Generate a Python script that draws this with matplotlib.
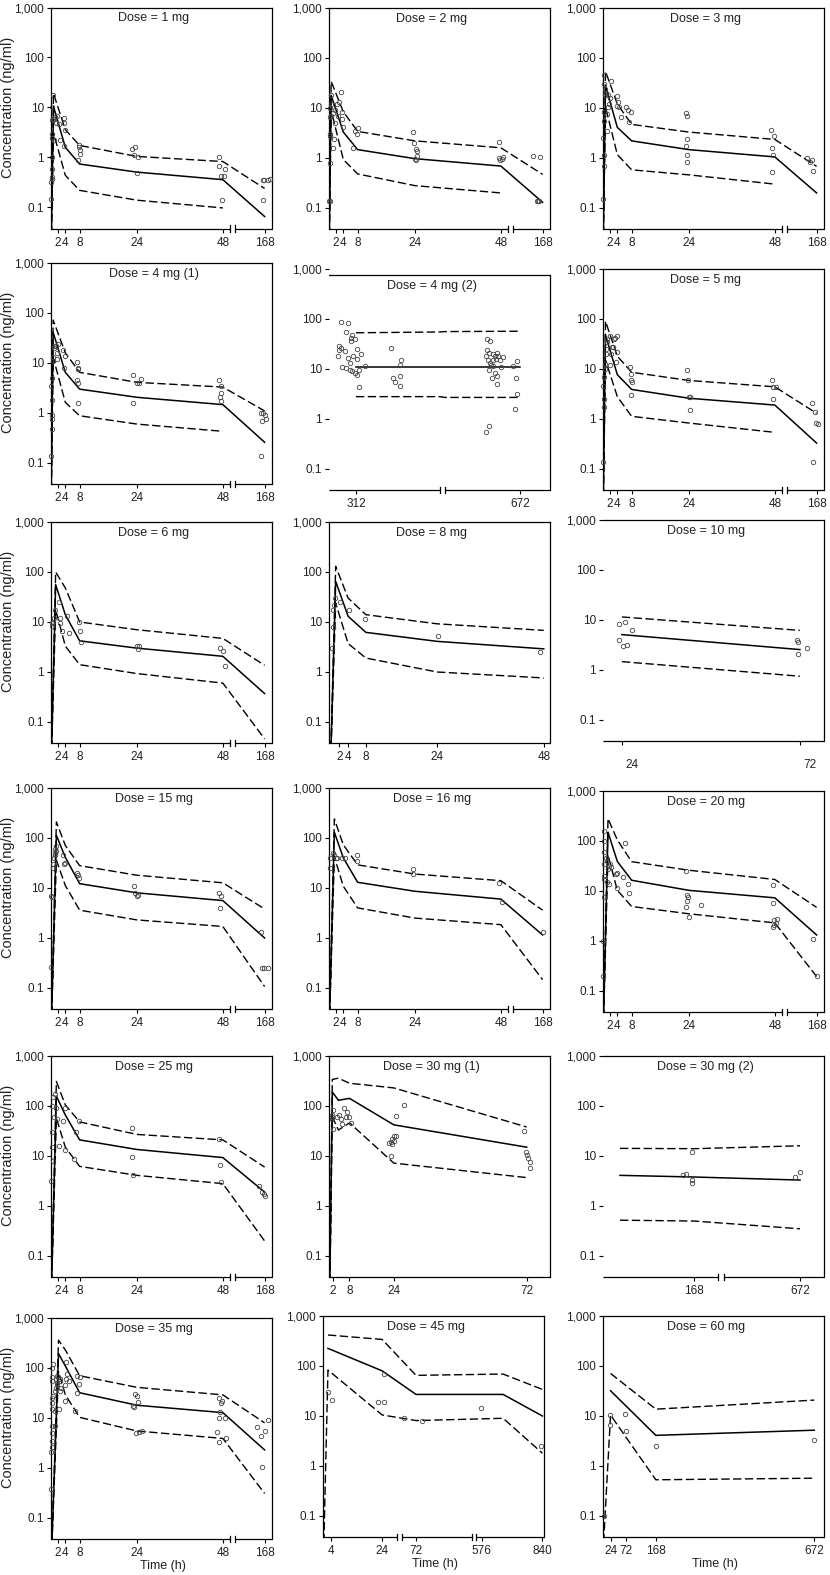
import numpy as np
import matplotlib
matplotlib.use("Agg")
import matplotlib.pyplot as plt
from matplotlib.ticker import FixedLocator, FixedFormatter, NullFormatter, NullLocator

nan = np.nan
plt.rcParams['font.family'] = ['Liberation Sans', 'DejaVu Sans']

# ---------------- data (time in h, concentration in ng/ml) ----------------
# 1 mg
d1_lt = [0, 0.7, 4, 8, 24, 48, 168]
d1_med = [0.01, 10.5, 1.6, 0.74, 0.51, 0.36, 0.066]
d1_hi = [0.01, 19, 3.6, 1.74, 1.05, 0.83, 0.24]
d1_lo = [0.01, 3.1, 0.44, 0.22, 0.14, 0.098, nan]
d1_ot = [0.1, 0.1, 0.15, 0.2, 0.3, 0.2, 0.3, 0.4, 0.3, 0.5, 0.4, 0.6, 0.7, 0.8,
         1.2, 1.5, 2.2, 2.5, 1.8, 3.5, 3.6, 3.5, 4, 7.7, 7.9, 8, 8.1, 7.6,
         22.6, 23.5, 23.2, 24.2, 23.9, 46.8, 47, 47.4, 48.3, 48.5, 47.7,
         167, 167.5, 167, 170, 171]
d1_oc = [0.15, 0.33, 0.38, 0.4, 0.6, 1.0, 2.5, 3.0, 5.5, 6.0, 10, 18, 6, 2.2,
         6.5, 5, 4.6, 2.2, 6.8, 6.2, 5, 1.7, 3.5, 1.8, 1.6, 1.4, 1.2, 0.9,
         1.5, 1.65, 1.1, 1.0, 0.5, 1.0, 0.68, 0.42, 0.42, 0.6, 0.14,
         0.35, 0.35, 0.14, 0.35, 0.37]

# 2 mg
d2_lt = [0, 0.6, 4, 8, 24, 48, 168]
d2_med = [0.01, 18, 3.3, 1.47, 0.97, 0.69, 0.13]
d2_hi = [0.01, 34, 8.4, 3.4, 2.2, 1.6, 0.47]
d2_lo = [0.01, 9, 0.93, 0.48, 0.28, 0.2, nan]
d2_ot = [0.1, 0.3, 0.2, 0.3, 0.4, 0.3, 0.5, 0.4, 0.5, 0.6,
         1.0, 1.4, 1.8, 1.2, 1.6, 2.2, 2.5, 2.8, 3.3, 3.5, 3.7, 3.8,
         6.8, 7.4, 7.8, 8.0, 23.5, 23.7, 24.3, 24.6, 24.5, 24.0, 24.2,
         47.4, 47.5, 47.7, 48.2, 48.6, 162.4, 166.7, 164.7, 165.5, 166]
d2_oc = [0.14, 0.14, 0.8, 2.8, 3, 6.5, 7, 10, 12, 18,
         1.6, 2.4, 5, 8, 9, 12, 7, 13, 21, 8.5, 6, 4.2,
         1.6, 3.5, 3, 3.9, 3.3, 2, 1.5, 1.35, 1.1, 0.95, 0.9,
         2.1, 1.0, 0.9, 0.95, 1.05, 1.1, 1.05, 0.14, 0.14, 0.14]

# 3 mg
d3_lt = [0, 0.7, 4, 8, 24, 48, 168]
d3_med = [0.01, 28, 4.1, 2.2, 1.47, 1.05, 0.2]
d3_hi = [0.01, 54, 12, 4.7, 3.3, 2.35, 0.68]
d3_lo = [0.01, 10.5, 1.17, 0.58, 0.46, 0.3, nan]
d3_ot = [0.1, 0.2, 0.3, 0.1, 0.2, 0.4, 0.5, 0.6, 0.4, 0.3, 0.8,
         1.0, 1.2, 1.5, 1.8, 2.0, 2.2, 1.3, 4.0, 4.2, 4.5, 5.0, 3.8,
         6.5, 7.0, 7.8, 7.2, 23.3, 23.5, 23.6, 23.3, 23.6, 23.4,
         47.0, 47.7, 47.2, 47.6, 47.2, 162.2, 164, 165, 166]
d3_oc = [0.15, 0.7, 1.15, 2.5, 5.5, 8.5, 18, 24, 30, 45, 20,
         3.4, 7.5, 10.5, 12, 16, 35, 18, 17, 13, 10.5, 6.5, 11,
         10.5, 9, 8.4, 5.2, 8, 7, 2.4, 1.7, 1.15, 0.84,
         3.7, 2.8, 1.6, 1.15, 0.53, 1.0, 0.85, 0.9, 0.55]

# 4 mg (1)
d4a_lt = [0, 0.6, 4, 8, 24, 48, 168]
d4a_med = [0.01, 41, 6.5, 3.0, 2.06, 1.47, 0.26]
d4a_hi = [0.01, 72, 16, 6.5, 4.1, 3.3, 1.1]
d4a_lo = [0.01, 13, 1.63, 0.88, 0.6, 0.43, nan]
d4a_ot = [0.1, 0.3, 0.2, 0.4, 0.2, 0.1, 0.3, 0.5, 0.6, 0.8, 0.7,
          1.5, 2.0, 1.8, 1.6, 3.3, 3.8, 3.5,
          7.3, 7.5, 7.6, 7.4, 7.6, 7.5, 22.8, 22.8, 24, 24.5, 25,
          47, 47.6, 47.4, 47.2, 47.5, 165.9, 167, 168, 166.5, 169, 166]
d4a_oc = [0.14, 0.48, 0.75, 0.9, 1.8, 3.5, 5, 11, 13, 20, 22,
          22, 24, 16, 12, 18, 14, 7.8,
          10.5, 8, 7.5, 4.6, 4, 1.6, 5.7, 1.55, 4, 3.9, 4.7,
          4.6, 3.5, 2.5, 2.1, 1.7, 1.0, 1.0, 0.9, 0.7, 0.75, 0.14]

# 4 mg (2)
d4b_lt = [312, 340, 650, 672]
d4b_med = [11, 11, 11, 11]
d4b_hi = [53, 55, 56, 57]
d4b_lo = [2.8, 2.8, 2.7, 2.7]
d4b_ot = [307.1, 309.3, 308.8, 310.8, 310.5, 310.2, 311.6, 306.5, 307.1, 306.3,
          308.2, 306.0, 309.3, 311.0, 309.9, 312.4, 313.8, 312.4, 307.4, 308.8,
          309.9, 310.8, 311.6, 312.4, 313.0, 313.0, 314.9, 323.8, 324.4, 324.9,
          326.6, 326.8, 327.1, 326.8,
          662.3, 663.3, 662.3, 662.9, 662.1, 662.6, 663.1, 663.9, 664.6, 665.1,
          665.5, 666.0, 664.1, 662.9, 664.6, 665.1, 663.6, 665.3, 662.1, 662.9,
          669.9, 670.9, 670.7, 670.4, 671.1, 664, 665, 663.5, 666.5, 667]
d4b_oc = [89, 85, 54, 48, 42, 37, 40, 29, 26, 24,
          22.5, 18, 16.5, 18, 13, 25, 20, 16, 11, 10.5,
          9.7, 9, 8.3, 7.7, 9.7, 4.4, 11.6, 26, 6.6, 5.5,
          4.5, 7.1, 15, 12.3,
          40, 37, 23.6, 21, 18, 15, 13, 15, 18, 21,
          18, 15, 11.3, 9.7, 8.3, 7.3, 6.6, 4.9, 0.54, 0.74,
          11.7, 14.3, 6.6, 1.6, 3.1, 20, 16, 12, 11, 17]

# 5 mg
d5_lt = [0, 0.7, 4, 8, 24, 48, 168]
d5_med = [0.01, 48, 7.7, 3.9, 2.6, 1.9, 0.33]
d5_hi = [0.01, 90, 18, 8.6, 5.9, 4.4, 1.3]
d5_lo = [0.01, 15, 2.8, 1.13, 0.83, 0.54, nan]
d5_ot = [0.1, 0.2, 0.3, 0.1, 0.4, 0.5, 0.6, 0.8, 0.9, 1.0, 1.1,
         2.0, 2.2, 2.5, 1.9, 3.0, 3.3, 2.8, 3.5, 3.8, 4.0,
         7.6, 7.8, 7.7, 8.0, 7.9, 23.6, 23.8, 24.0, 24.4, 24.2,
         47.2, 47.6, 48.2, 47.4, 165.5, 167, 167.5, 168.6, 166]
d5_oc = [0.14, 1.7, 2.5, 4.5, 7, 10, 12.5, 20, 25, 35, 40,
         45, 20, 27, 12, 40, 42, 28, 14, 22, 45,
         11, 8, 6, 5.5, 3, 9.5, 6, 2.7, 2.7, 1.5,
         6, 4.3, 4.3, 2.5, 2.1, 1.4, 0.83, 0.8, 0.14]

# 6 mg
d6_lt = [0, 1.3, 4, 8, 24, 48, 168]
d6_med = [0.01, 56, 14, 4.2, 3.0, 2.06, 0.37]
d6_hi = [0.01, 100, 48, 10, 7, 4.7, 1.36]
d6_lo = [0.01, 17.6, 3.3, 1.4, 0.93, 0.6, 0.046]
d6_ot = [0.3, 0.5, 0.8, 1.0, 0.2, 2.2, 2.4, 2.6, 3.0, 4.5, 5.0,
         7.9, 8.0, 8.4, 23.9, 24.2, 24.5, 47.3, 48, 48.5]
d6_oc = [9.5, 10, 12, 17, 8.5, 25, 12, 9.5, 6.5, 13, 6.1,
         10, 6.5, 3.9, 3.3, 2.9, 3.3, 3.0, 2.6, 1.3]

# 8 mg
d8_lt = [0, 1.2, 4, 8, 24, 48]
d8_med = [0.01, 65, 13, 6.2, 4.1, 2.9]
d8_hi = [0.01, 130, 30, 14, 9.2, 6.8]
d8_lo = [0.01, 24, 3.7, 1.9, 1.0, 0.76]
d8_ot = [0.4, 0.5, 0.7, 0.9, 1.0, 2.1, 4.3, 7.9, 24.3, 47.2]
d8_oc = [3, 8, 17, 22, 30, 25, 17.6, 11.7, 5.2, 2.5]

# 10 mg
d10_lt = [24, 72]
d10_med = [5.1, 2.56]
d10_hi = [11.5, 6.2]
d10_lo = [1.47, 0.75]
d10_ot = [23.3, 23.3, 24.3, 24.9, 25.4, 26.6, 71.3, 71.6, 71.5, 73.9]
d10_oc = [8.5, 4, 3, 9, 3.1, 6.2, 4, 3.7, 2.1, 2.7]

# 15 mg
d15_lt = [0, 1.5, 4, 8, 24, 48, 168]
d15_med = [0.01, 113, 41, 12.2, 8, 5.6, 1.0]
d15_hi = [0.01, 210, 71, 28, 18, 12.7, 3.8]
d15_lo = [0.01, 36, 11.2, 3.6, 2.3, 1.7, 0.107]
d15_ot = [0.1, 0.1, 0.2, 0.5, 0.6, 0.8, 1.0, 1.2, 1.4, 1.3, 1.1,
          3.3, 3.5, 4.0, 7.2, 7.5, 7.8, 23.3, 23.6, 23.9, 24.2,
          47, 47.6, 47.3, 165.9, 166.5, 167.5, 170]
d15_oc = [0.26, 7, 6.5, 25, 30, 40, 50, 60, 70, 55, 45,
          45, 30, 32, 20, 18, 16, 11, 8, 7, 7.3,
          8, 7, 4, 1.3, 0.25, 0.25, 0.25]

# 16 mg
d16_lt = [0, 1.5, 4, 8, 24, 48, 168]
d16_med = [0.01, 130, 40, 13, 8.6, 6.0, 1.15]
d16_hi = [0.01, 240, 73, 29, 19, 14, 3.6]
d16_lo = [0.01, 42, 10.8, 4, 2.5, 1.85, 0.147]
d16_ot = [0.2, 0.4, 1.2, 1.5, 2.0, 2.3, 3.7, 4.5, 7.7, 7.8, 23.5, 23.6, 47.4, 48.3, 168]
d16_oc = [25, 40, 50, 45, 40, 40, 40, 40, 45, 35, 24, 19, 12.5, 5.2, 1.3]

# 20 mg
d20_lt = [0, 1.4, 4, 8, 24, 48, 168]
d20_med = [0.01, 150, 39, 16.4, 10.3, 7.3, 1.32]
d20_hi = [0.01, 280, 105, 38.6, 26, 17, 4.7]
d20_lo = [0.01, 53, 10.3, 4.9, 3.5, 2.3, 0.195]
d20_ot = [0.1, 0.1, 0.2, 0.3, 0.2, 0.4, 0.3, 0.4, 0.2,
          0.8, 1.0, 1.2, 1.6, 1.5, 1.8, 2.0, 2.3, 3.6, 3.8, 3.9,
          5.6, 6.2, 7.0, 7.4, 23.3, 23.6, 23.8, 23.5, 23.3, 24.0, 27.4,
          47.4, 47.5, 47.8, 48.2, 47.9, 47.6, 48.6, 166, 168]
d20_oc = [0.2, 1, 7.5, 17, 20, 35, 60, 100, 160,
          45, 40, 15, 14, 28, 32, 35, 30, 22, 11.5, 23,
          19, 90, 14, 9.2, 25, 8.2, 7.5, 6.4, 4.8, 3, 5.3,
          13, 5.8, 2.6, 2.3, 2.1, 1.9, 2.7, 1.1, 0.2]

# 25 mg
d25_lt = [0, 1.5, 4, 8, 24, 48, 168]
d25_med = [0.01, 158, 66, 21, 13.5, 9.3, 1.9]
d25_hi = [0.01, 310, 105, 48, 27, 21, 6]
d25_lo = [0.01, 57, 15, 6.2, 4.1, 2.8, 0.2]
d25_ot = [0.1, 0.2, 0.3, 0.4, 0.5, 0.6, 0.7, 1.2, 1.5, 1.8, 2.2,
          3.4, 3.8, 4.0, 6.5, 7.0, 7.8, 22.7, 22.7, 22.8,
          47, 47.2, 47.4, 164.3, 166.5, 167.5, 168]
d25_oc = [3.2, 15, 30, 100, 150, 8, 60, 170, 90, 55, 16,
          50, 13, 90, 8.8, 30, 50, 37, 9.7, 4.1,
          22, 6.7, 3, 2.5, 1.9, 1.7, 1.6]

# 30 mg (1)
d30a_lt = [0.8, 1.8, 4, 8, 24, 72]
d30a_med = [0.01, 190, 130, 142, 42, 15]
d30a_hi = [0.01, 340, 360, 285, 230, 38]
d30a_lo = [0.01, 61, 33, 46, 7.2, 3.7]
d30a_ot = [1.56, 1.8, 1.8, 2.04, 2.04, 3.6, 4.2, 4.8, 5.4, 6.0, 6.6, 7.2, 7.8, 8.4,
           22.3, 22.9, 23.5, 24.1, 24.7, 23.5, 24.1, 24.7, 22.9, 27.7,
           71, 71.6, 72.2, 72.6, 73.0, 73.2]
d30a_oc = [65, 60, 55, 35, 85, 60, 65, 55, 43, 90, 60, 75, 60, 45,
           18, 19, 22, 25, 25, 17, 20, 62, 10, 105,
           32, 12, 10.5, 9, 7.5, 5.7]

# 30 mg (2)
d30b_lt = [0, 168, 672]
d30b_med = [4.1, 3.8, 3.3]
d30b_hi = [14.2, 14, 16]
d30b_lo = [0.52, 0.5, 0.35]
d30b_ot = [143.8, 149.5, 164, 164, 164, 667, 671.8]
d30b_oc = [4.1, 4.4, 3.3, 2.9, 12, 3.8, 4.7]

# 35 mg
d35_lt = [0, 2.1, 4, 8, 24, 48, 168]
d35_med = [0.01, 194, 110, 32, 18, 12.8, 2.3]
d35_hi = [0.01, 360, 230, 70, 41, 29, 8]
d35_lo = [0.01, 85, 29, 10.3, 5.5, 3.9, 0.31]
d35_ot = [0.1, 0.1, 0.2, 0.3, 0.2, 0.3, 0.4, 0.3, 0.4, 0.5, 0.3, 0.4, 0.5, 0.4,
          1.0, 1.2, 1.4, 1.6, 1.5, 1.8, 1.2, 1.6, 2.2, 2.4, 2.5, 2.8, 2.6,
          3.8, 4.0, 4.3, 4.5, 4.2, 5.0, 6.8, 7.3, 7.8, 8.0, 7.4,
          22.8, 23.3, 23.4, 24.0, 24.2, 23.8, 24.6, 25.4,
          47.0, 47.4, 47.7, 47.2, 46.9, 48.7, 46.5, 47.0, 48.8,
          163.2, 166, 166.5, 168.5, 170]
d35_oc = [0.38, 2.1, 2.6, 3.5, 5, 7, 15, 20, 25, 27, 65, 100, 120, 55,
          7, 14, 40, 45, 60, 70, 35, 50, 15, 60, 55, 40, 35,
          22, 45, 60, 75, 130, 55, 14, 32, 48, 65, 70,
          17, 16.5, 30, 27, 21, 5, 5.3, 5.4,
          25, 20, 22, 13, 10, 10, 5.2, 3.3, 4,
          6.5, 4.3, 1.05, 5.5, 9]

# 45 mg
d45_lt = [1.1, 2.7, 24, 72, 669, 840]
d45_med = [nan, 225, 80, 27, 27, 10]
d45_hi = [nan, 417, 340, 65, 69, 34]
d45_lo = [0.03, 83, 10.5, 8.1, 9, 1.8]
d45_ot = [2.7, 4.4, 22.3, 24.6, 24.6, 48.8, 84, 573, 834]
d45_oc = [30.6, 21, 19.3, 19.3, 69, 9, 8.1, 14.6, 2.5]

# 60 mg
d60_lt = [2, 24, 168, 672]
d60_med = [nan, 32, 4.1, 5.2]
d60_hi = [nan, 71, 13.7, 20.8]
d60_lo = [0.03, 10.4, 0.53, 0.57]
d60_ot = [2, 21, 21, 70, 72, 168, 672]
d60_oc = [0.1, 10.4, 6.5, 11.2, 5.0, 2.5, 3.3]

# tick values
ticks_A = [2, 4, 8, 24, 48, 168]
ticks_8 = [2, 4, 8, 24, 48]
ticks_4b = [312, 672]
ticks_10 = [24, 72]
ticks_30a = [2, 8, 24, 72]
ticks_30b = [168, 672]
ticks_45 = [4, 24, 72, 576, 840]
ticks_60 = [24, 72, 168, 672]
y_ticks = [0.1, 1, 10, 100, 1000]
y_ticklabels = ["0.1", "1", "10", "100", "1,000"]

# ---------------- broken time axes (time -> pixel units along the axis) ----------------
SCALES = {
    'A':   ([0, 50, 150, 172.5], [0, 179, 184, 221]),
    '8':   ([-0.3, 49.4], [0, 221]),
    '4b':  ([303, 340, 650, 680.6], [0, 110.7, 115.7, 221]),
    '10':  ([18.9, 78.5], [0, 221]),
    '30a': ([0.6, 80.4], [0, 221]),
    '30b': ([-38.6, 222.5, 600, 694.7], [0, 115, 121, 221]),
    '45':  ([0.75, 29.75, 44, 184, 550, 847], [0, 74, 79.3, 149.3, 153.3, 221.7]),
    '60':  ([0, 703], [0, 221]),
}
SEGMENTS = {
    'A': [(0, 50), (150, 172.5)],
    '4b': [(303, 340), (650, 680.6)],
    '30b': [(-38.6, 222.5), (600, 694.7)],
    '45': [(0.75, 29.75), (44, 184), (550, 847)],
}

panels = [
    ("Dose = 1 mg", d1_lt, d1_med, d1_lo, d1_hi, d1_ot, d1_oc, 'A', ticks_A),
    ("Dose = 2 mg", d2_lt, d2_med, d2_lo, d2_hi, d2_ot, d2_oc, 'A', ticks_A),
    ("Dose = 3 mg", d3_lt, d3_med, d3_lo, d3_hi, d3_ot, d3_oc, 'A', ticks_A),
    ("Dose = 4 mg (1)", d4a_lt, d4a_med, d4a_lo, d4a_hi, d4a_ot, d4a_oc, 'A', ticks_A),
    ("Dose = 4 mg (2)", d4b_lt, d4b_med, d4b_lo, d4b_hi, d4b_ot, d4b_oc, '4b', ticks_4b),
    ("Dose = 5 mg", d5_lt, d5_med, d5_lo, d5_hi, d5_ot, d5_oc, 'A', ticks_A),
    ("Dose = 6 mg", d6_lt, d6_med, d6_lo, d6_hi, d6_ot, d6_oc, 'A', ticks_A),
    ("Dose = 8 mg", d8_lt, d8_med, d8_lo, d8_hi, d8_ot, d8_oc, '8', ticks_8),
    ("Dose = 10 mg", d10_lt, d10_med, d10_lo, d10_hi, d10_ot, d10_oc, '10', ticks_10),
    ("Dose = 15 mg", d15_lt, d15_med, d15_lo, d15_hi, d15_ot, d15_oc, 'A', ticks_A),
    ("Dose = 16 mg", d16_lt, d16_med, d16_lo, d16_hi, d16_ot, d16_oc, 'A', ticks_A),
    ("Dose = 20 mg", d20_lt, d20_med, d20_lo, d20_hi, d20_ot, d20_oc, 'A', ticks_A),
    ("Dose = 25 mg", d25_lt, d25_med, d25_lo, d25_hi, d25_ot, d25_oc, 'A', ticks_A),
    ("Dose = 30 mg (1)", d30a_lt, d30a_med, d30a_lo, d30a_hi, d30a_ot, d30a_oc, '30a', ticks_30a),
    ("Dose = 30 mg (2)", d30b_lt, d30b_med, d30b_lo, d30b_hi, d30b_ot, d30b_oc, '30b', ticks_30b),
    ("Dose = 35 mg", d35_lt, d35_med, d35_lo, d35_hi, d35_ot, d35_oc, 'A', ticks_A),
    ("Dose = 45 mg", d45_lt, d45_med, d45_lo, d45_hi, d45_ot, d45_oc, '45', ticks_45),
    ("Dose = 60 mg", d60_lt, d60_med, d60_lo, d60_hi, d60_ot, d60_oc, '60', ticks_60),
]

# ---------------- layout (pixels) ----------------
W, H = 830, 1575
col_left = [51, 329, 603]
row_top = [[7.5, 8, 8], [263, 269, 269], [522, 522, 520],
           [788, 788, 791], [1056, 1056, 1056], [1318, 1316, 1316]]
AX_W, AX_H = 221, 221
YMIN, YMAX = 0.038, 1000
TOP_4B = 760
TXT = '#222222'

fig = plt.figure(figsize=(W / 100, H / 100), dpi=100)
fig.patch.set_facecolor('white')

no_left_spine = {'4b', '10', '30b'}

for i, (title, lt, med, lo, hi, ot, oc, sk, ticks) in enumerate(panels):
    r, c = divmod(i, 3)
    left = col_left[c]
    if sk == '45':
        left = 323
    top = row_top[r][c]
    ax = fig.add_axes([left / W, 1 - (top + AX_H) / H, AX_W / W, AX_H / H])
    T, U = SCALES[sk]
    fwd = (lambda t, T=T, U=U: np.interp(t, T, U))
    inv = (lambda u, T=T, U=U: np.interp(u, U, T))
    ax.set_xscale('function', functions=(fwd, inv))
    ax.set_yscale('log')
    ax.set_xlim(T[0], T[-1])
    ax.set_ylim(YMIN, YMAX)

    lt = np.asarray(lt, float)
    ax.plot(lt, hi, color='k', lw=1.0, ls=(0, (6, 2.5)))
    ax.plot(lt, lo, color='k', lw=1.0, ls=(0, (6, 2.5)))
    ax.plot(lt, med, color='k', lw=1.1, ls='-')
    ax.plot(ot, oc, 'o', ms=3.2, mfc='none', mec='#444444', mew=0.6,
            ls='none', clip_on=False, zorder=3)

    # y axis
    ax.yaxis.set_major_locator(FixedLocator(y_ticks))
    ax.yaxis.set_major_formatter(FixedFormatter(y_ticklabels))
    ax.yaxis.set_minor_locator(NullLocator())
    ax.tick_params(axis='y', direction='out', length=3, width=0.8, pad=2,
                   labelsize=8.5, labelcolor=TXT)

    # x axis
    ax.xaxis.set_minor_locator(NullLocator())
    ax.xaxis.set_major_locator(FixedLocator(ticks))
    if sk == '10':
        ax.xaxis.set_major_formatter(NullFormatter())
        ax.xaxis.set_minor_locator(FixedLocator([t + 2.7 for t in ticks]))
        ax.xaxis.set_minor_formatter(FixedFormatter([str(t) for t in ticks]))
        ax.tick_params(axis='x', which='minor', length=0, pad=13,
                       labelsize=8.5, labelcolor=TXT)
    else:
        ax.xaxis.set_major_formatter(FixedFormatter([str(t) for t in ticks]))
    ax.tick_params(axis='x', which='major', direction='out', length=3, width=0.8,
                   pad=3, labelsize=8.5, labelcolor=TXT)

    # frame
    for s in ax.spines.values():
        s.set_linewidth(0.9)
        s.set_color('k')
    ax.spines['bottom'].set_visible(False)
    xt = ax.get_xaxis_transform()
    segs = SEGMENTS.get(sk, [(T[0], T[-1])])
    for j, (a, b) in enumerate(segs):
        ax.plot([a, b], [0, 0], transform=xt, color='k', lw=0.9,
                clip_on=False, solid_capstyle='butt')
        if j > 0:
            ax.plot([a, a], [-0.014, 0.014], transform=xt, color='k', lw=0.9, clip_on=False)
        if j < len(segs) - 1:
            ax.plot([b, b], [-0.014, 0.014], transform=xt, color='k', lw=0.9, clip_on=False)
    if sk == '4b':
        ax.spines['top'].set_visible(False)
        ax.axhline(TOP_4B, color='k', lw=0.9)
        ax.spines['right'].set_bounds(YMIN, TOP_4B)
    if sk in no_left_spine:
        ax.spines['left'].set_visible(False)

    ty = 0.925 if sk == '4b' else 0.952
    ax.text(0.465, ty, title, transform=ax.transAxes, ha='center', va='center',
            fontsize=9, color=TXT)

    if c == 0:
        ax.set_ylabel('Concentration (ng/ml)', fontsize=10.5, color=TXT)
        ax.yaxis.set_label_coords(-0.163, 0.55)
    if r == 5:
        ax.set_xlabel('Time (h)', fontsize=9, color=TXT)
        ax.xaxis.set_label_coords(0.505, -0.095)

fig.savefig('out.png', dpi=100, facecolor='white')
